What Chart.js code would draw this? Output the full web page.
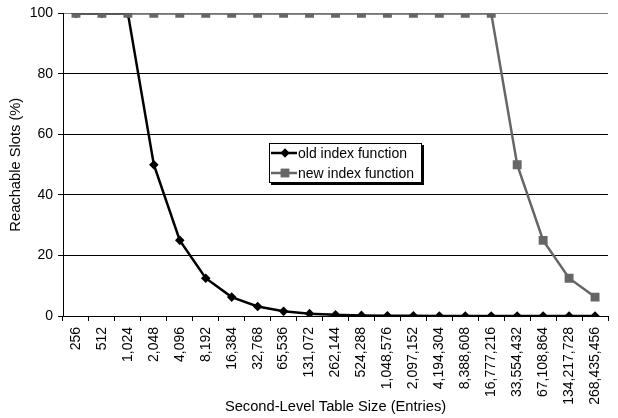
<!DOCTYPE html>
<html>
<head>
<meta charset="utf-8">
<script src="https://cdn.jsdelivr.net/npm/chart.js@4"></script>
<style>
  html, body { margin: 0; padding: 0; background: #fff; }
  #wrap { width: 618px; height: 418px; }
</style>
</head>
<body>
<div id="wrap"><canvas id="c" width="618" height="418"></canvas></div>
<script>
// Second-level table sizes (entries)
const tableSizes = ["256", "512", "1,024", "2,048", "4,096", "8,192", "16,384", "32,768",
  "65,536", "131,072", "262,144", "524,288", "1,048,576", "2,097,152", "4,194,304",
  "8,388,608", "16,777,216", "33,554,432", "67,108,864", "134,217,728", "268,435,456"];

// Reachable slots (%) for each index function
const oldIndexFunction = [100, 100, 100, 50, 25, 12.5, 6.25, 3.125, 1.5625, 0.78125, 0.390625,
  0.1953125, 0.09765625, 0.048828125, 0.0244140625, 0.01220703125, 0.006103515625,
  0.0030517578125, 0.00152587890625, 0.000762939453125, 0.0003814697265625];
const newIndexFunction = [100, 100, 100, 100, 100, 100, 100, 100, 100, 100, 100,
  100, 100, 100, 100, 100, 100, 50, 25, 12.5, 6.25];

const yTicks = [0, 20, 40, 60, 80, 100];

const seriesNames = ["old index function", "new index function"];
const OLD_COLOR = "#000000";
const NEW_COLOR = "#666666";
const FONT = "'Liberation Sans', Arial, sans-serif";

// Boxed legend drawn inside the plot area
const boxLegend = {
  id: "boxLegend",
  afterDraw(chart) {
    const ctx = chart.ctx;
    const x = 269, y = 143, w = 153, h = 40;
    ctx.save();
    ctx.fillStyle = "#000";
    ctx.fillRect(x + 2, y + 2, w, h);
    ctx.fillStyle = "#fff";
    ctx.fillRect(x, y, w, h);
    ctx.strokeStyle = "#000";
    ctx.lineWidth = 1;
    ctx.strokeRect(x + 0.5, y + 0.5, w - 1, h - 1);
    const rows = [
      { name: seriesNames[0], color: OLD_COLOR, style: "rectRot", r: 4.5, cy: y + 10 },
      { name: seriesNames[1], color: NEW_COLOR, style: "rect", r: 6, cy: y + 30 }
    ];
    ctx.font = "14px " + FONT;
    ctx.textBaseline = "middle";
    ctx.textAlign = "left";
    rows.forEach(row => {
      ctx.strokeStyle = row.color;
      ctx.lineWidth = 2.5;
      ctx.beginPath();
      ctx.moveTo(x + 2, row.cy);
      ctx.lineTo(x + 28, row.cy);
      ctx.stroke();
      ctx.fillStyle = row.color;
      Chart.helpers.drawPoint(ctx, { pointStyle: row.style, radius: row.r, borderWidth: 0 }, x + 16, row.cy);
      ctx.fill();
      ctx.fillStyle = "#000";
      ctx.fillText(row.name, x + 29, row.cy + 1);
    });
    ctx.restore();
  }
};

new Chart(document.getElementById("c"), {
  type: "line",
  data: {
    labels: tableSizes,
    datasets: [
      {
        label: seriesNames[1],
        data: newIndexFunction,
        borderColor: NEW_COLOR,
        backgroundColor: NEW_COLOR,
        borderWidth: 2.5,
        pointStyle: "rect",
        pointRadius: 6.3,
        pointBorderWidth: 0,
        tension: 0,
        order: 0
      },
      {
        label: seriesNames[0],
        data: oldIndexFunction,
        borderColor: OLD_COLOR,
        backgroundColor: OLD_COLOR,
        borderWidth: 2.5,
        pointStyle: "rectRot",
        pointRadius: 4.8,
        pointBorderWidth: 0,
        tension: 0,
        order: 1
      }
    ]
  },
  options: {
    responsive: false,
    animation: false,
    layout: { padding: { top: 13, right: 0, left: 0, bottom: 0 } },
    plugins: { legend: { display: false }, tooltip: { enabled: false } },
    scales: {
      x: {
        offset: true,
        grid: {
          offset: true,
          drawOnChartArea: false,
          drawTicks: true,
          tickLength: 5,
          color: "#000"
        },
        border: { color: "#000", width: 1 },
        ticks: {
          autoSkip: false,
          maxRotation: 90,
          minRotation: 90,
          padding: 6,
          color: "#000",
          font: { family: FONT, size: 14 }
        },
        title: {
          display: true,
          text: "Second-Level Table Size (Entries)",
          color: "#000",
          font: { family: FONT, size: 14.7 },
          padding: { top: 0, bottom: 2 }
        },
        afterFit(scale) { scale.height = 102; }
      },
      y: {
        min: 0,
        max: 100,
        afterBuildTicks(scale) { scale.ticks = yTicks.map(v => ({ value: v })); },
        grid: {
          color: ctx => (ctx.tick && ctx.tick.value === 100 ? "#808080" : "#000"),
          tickColor: "#000",
          tickLength: 5,
          lineWidth: 1
        },
        border: { color: "#000", width: 1 },
        ticks: {
          padding: 5,
          color: "#000",
          font: { family: FONT, size: 14 }
        },
        title: {
          display: true,
          text: "Reachable Slots (%)",
          color: "#000",
          font: { family: FONT, size: 14.7 },
          padding: { top: 7, bottom: 0 }
        },
        afterFit(scale) { scale.width = 63; }
      }
    }
  },
  plugins: [boxLegend]
});
</script>
</body>
</html>
